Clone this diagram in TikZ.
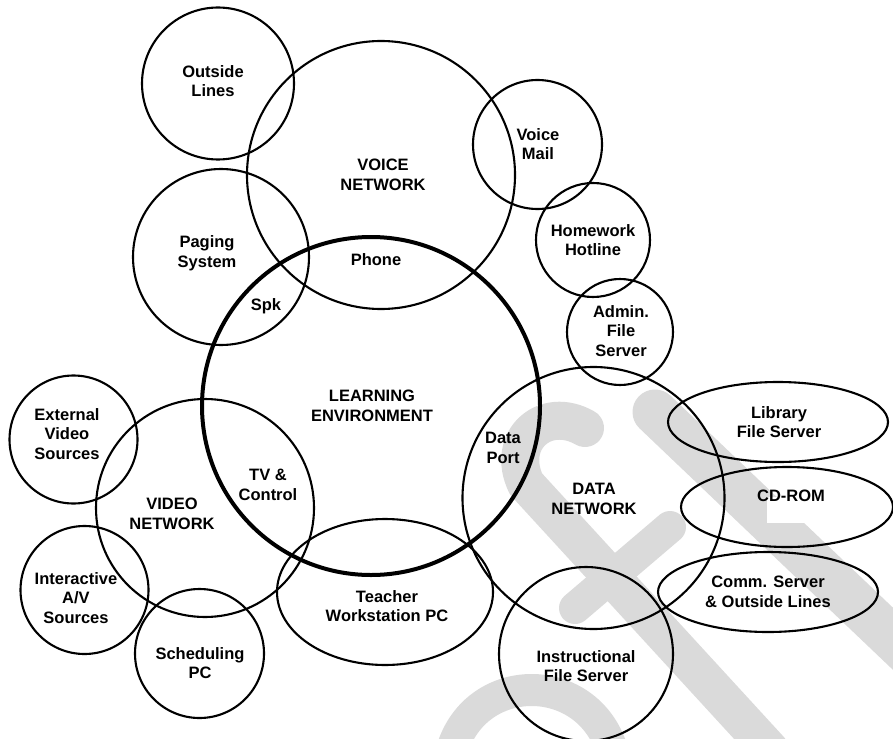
\documentclass[tikz,border=0pt]{standalone}
\usepackage{fontspec}
\setmainfont{Liberation Sans}
\usetikzlibrary{shapes.geometric}
\definecolor{wm}{RGB}{218,218,218}
\begin{document}
\begin{tikzpicture}[x=1pt,y=-1pt,
  ring/.style={draw=black, line width=2.1pt, circle, inner sep=0pt, minimum size=#1},
  thickring/.style={ring=#1, line width=4pt},
  oval/.style 2 args={draw=black, line width=2.1pt, ellipse, inner sep=0pt, minimum width=#1, minimum height=#2},
  lbl/.style={font=\bfseries\fontsize{16.5}{19.5}\selectfont, align=center, inner sep=0pt},
  wmstroke/.style={draw=wm, line cap=round, line join=round, line width=#1}]
\useasboundingbox (0,0) rectangle (893,738);
% watermark
\begin{scope}
\clip (0,0) rectangle (893,738);
\draw[wmstroke=38pt] (585,428) .. controls (545,405) and (505,440) .. (526,484) -- (770,750);
\draw[wmstroke=32pt] (575,608) -- (670,527);
\draw[wmstroke=45pt] (655,412) -- (910,655);
\draw[wmstroke=32pt] (452,750) .. controls (476,670) and (587,670) .. (612,750);
\fill[white] (767,497) rectangle (805,523);
\end{scope}
% circles and ellipses
\node[ring=152pt] (olc) at (218,83.5) {};
\node[ring=268pt] (vnc) at (381,175) {};
\node[ring=176pt] (psc) at (221,257) {};
\node[ring=129pt] (vmc) at (537.5,144.5) {};
\node[ring=114pt] (hhc) at (593,240) {};
\node[ring=106pt] (afc) at (620,332) {};
\node[ring=218pt] (vdc) at (205,508) {};
\node[ring=128pt] (evc) at (73.5,439.5) {};
\node[ring=128pt] (iac) at (84.5,590) {};
\node[ring=129pt] (spc) at (199.5,653.5) {};
\node[oval={216pt}{146pt}] (twc) at (385,592) {};
\node[ring=262pt] (dnc) at (593.5,498) {};
\node[oval={220pt}{80pt}] (lfc) at (778,422) {};
\node[oval={212pt}{80pt}] (cdc) at (787,507) {};
\node[oval={220pt}{80pt}] (csc) at (768,592) {};
\node[ring=174pt] (ifc) at (586,654) {};
\node[thickring=338pt] (lec) at (371,406) {};
% labels
\node[lbl] (olt) at (213,81) {Outside\\Lines};
\node[lbl] (vnt) at (383,175) {VOICE\\NETWORK};
\node[lbl] (pst) at (207,253) {Paging\\System};
\node[lbl] (pht) at (376,260) {Phone};
\node[lbl] (spk) at (266,306) {Spk};
\node[lbl] (vmt) at (538,144) {Voice\\Mail};
\node[lbl] (hht) at (593,240) {Homework\\Hotline};
\node[lbl] (aft) at (621,331) {Admin.\\File\\Server};
\node[lbl] (let) at (372,406) {LEARNING\\ENVIRONMENT};
\node[lbl] (evt) at (67,434) {External\\Video\\Sources};
\node[lbl] (vdt) at (172,514) {VIDEO\\NETWORK};
\node[lbl] (tvt) at (268,485) {TV \&\\Control};
\node[lbl] (iat) at (76,598) {Interactive\\A/V\\Sources};
\node[lbl] (spt) at (200,663) {Scheduling\\PC};
\node[lbl] (twt) at (387,606) {Teacher\\Workstation PC};
\node[lbl] (dpt) at (503,448) {Data\\Port};
\node[lbl] (dnt) at (594,499) {DATA\\NETWORK};
\node[lbl] (lft) at (779,422) {Library\\File Server};
\node[lbl] (cdt) at (791,496) {CD-ROM};
\node[lbl] (cst) at (768,592) {Comm. Server\\\& Outside Lines};
\node[lbl] (ift) at (586,666) {Instructional\\File Server};
\end{tikzpicture}
\end{document}
